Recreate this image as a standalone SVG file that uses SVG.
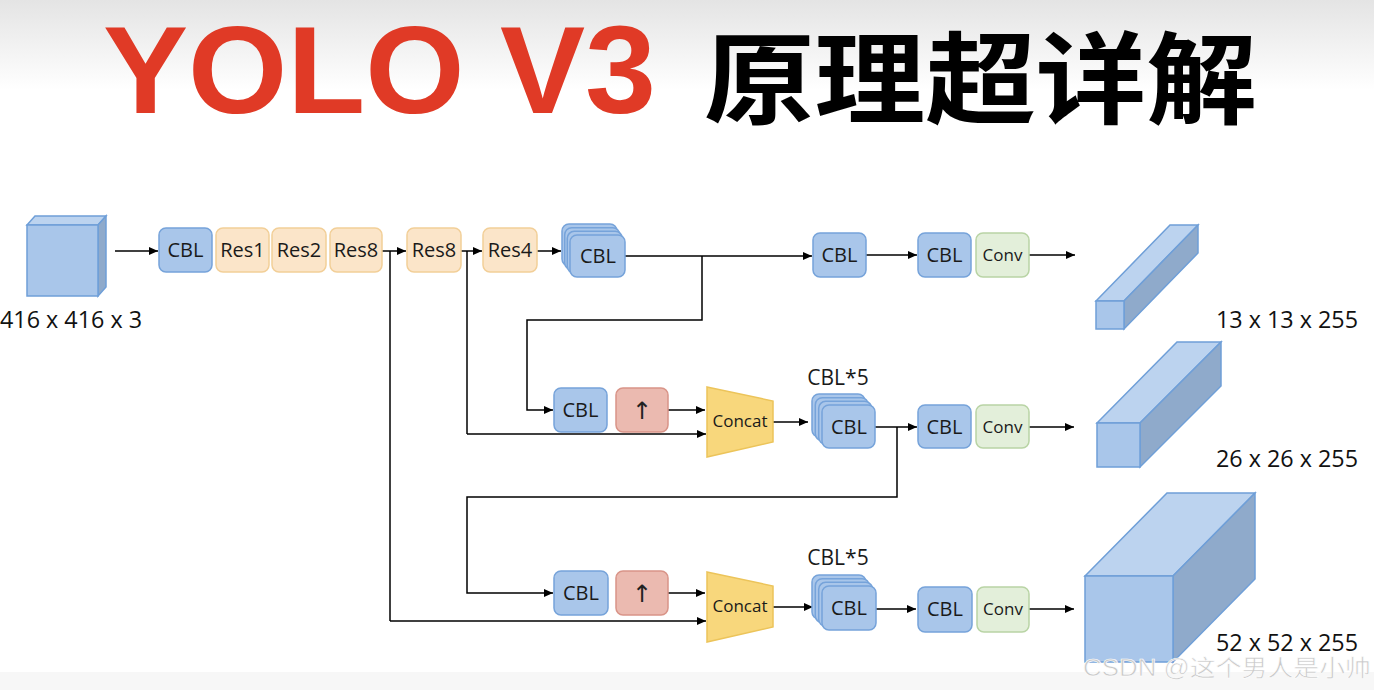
<svg xmlns="http://www.w3.org/2000/svg" width="1374" height="690" viewBox="0 0 1374 690">
<defs>
<linearGradient id="bg" x1="0" y1="0" x2="0" y2="1">
<stop offset="0" stop-color="#e4e4e4"/>
<stop offset="0.6" stop-color="#ffffff"/>
</linearGradient>
<marker id="ah" markerWidth="9" markerHeight="8" refX="9" refY="4" orient="auto" markerUnits="userSpaceOnUse">
<path d="M0,0 L9,4 L0,8 Z" fill="#000"/>
</marker>
<style>
.cbl{fill:#a9c6ea;stroke:#76a3da;stroke-width:1.5}
.res{fill:#fbe5c9;stroke:#f2cf98;stroke-width:1.5}
.conv{fill:#e3efda;stroke:#b9d4a5;stroke-width:1.5}
.up{fill:#ebbab0;stroke:#d99488;stroke-width:1.5}
.cat{fill:#f8d77c;stroke:#ecc45a;stroke-width:1.5}
.front{fill:#a9c6ea;stroke:#6f9fd8;stroke-width:1.5}
.top{fill:#bcd3ef;stroke:#6f9fd8;stroke-width:1.5}
.side{fill:#8faacb;stroke:#6f9fd8;stroke-width:1.5}
.t{font-family:"Open Sans","Liberation Sans",sans-serif;fill:#1a1a1a;text-anchor:middle}
.b{font-size:20px}
.s{font-size:17px}
.arw{font-family:"DejaVu Sans",sans-serif;font-size:24px;fill:#222;text-anchor:middle}
.lab{font-family:"Open Sans","Liberation Sans",sans-serif;font-size:23px;fill:#111}
.ln{fill:none;stroke:#000;stroke-width:1.5}
.ar{fill:none;stroke:#000;stroke-width:1.5;marker-end:url(#ah)}
</style>
</defs>
<rect x="0" y="0" width="1374" height="690" fill="#fff"/>
<rect x="0" y="0" width="1374" height="150" fill="url(#bg)"/>
<rect x="0" y="672" width="1374" height="18" fill="#f7f7f7"/>

<g id="title">
<text x="103" y="113" font-family="'Liberation Sans',sans-serif" font-weight="bold" font-size="124" fill="#e03a26" textLength="553" lengthAdjust="spacingAndGlyphs">YOLO V3</text>
<text x="704" y="116" font-family="'Noto Sans CJK SC',sans-serif" font-weight="bold" font-size="100" fill="#000" textLength="553" lengthAdjust="spacingAndGlyphs">原理超详解</text>
</g>

<g id="connectors">
<path class="ar" d="M115,251 H158"/>
<path class="ar" d="M382,251 H406"/>
<path class="ln" d="M390,251 V621"/>
<path class="ar" d="M390,621 H706"/>
<path class="ar" d="M461,251 H482"/>
<path class="ln" d="M467,251 V434"/>
<path class="ar" d="M467,434 H706"/>
<path class="ar" d="M537,251 H561"/>
<path class="ar" d="M625,256 H812"/>
<path class="ar" d="M702,256 V320 H527 V410 H553"/>
<path class="ar" d="M866,255 H917"/>
<path class="ar" d="M1029,255 H1075"/>
<path class="ar" d="M668,410 H705"/>
<path class="ar" d="M773,422 H808"/>
<path class="ar" d="M875,427 H917"/>
<path class="ar" d="M897,427 V497 H467 V593 H553"/>
<path class="ar" d="M1029,427 H1074"/>
<path class="ar" d="M668,593 H705"/>
<path class="ar" d="M773,607 H813"/>
<path class="ar" d="M876,609 H916"/>
<path class="ar" d="M1029,609 H1074"/>
</g>

<g id="input">
<polygon class="top" points="27,225 35,216 106,216 98,225"/>
<polygon class="side" points="98,225 106,216 106,287 98,296"/>
<rect class="front" x="27" y="225" width="71" height="71"/>
<text class="lab" x="0" y="328" textLength="142" lengthAdjust="spacingAndGlyphs">416 x 416 x 3</text>
</g>

<g id="cbl1"><rect class="cbl" x="159" y="228" width="53" height="44" rx="7"/><text class="t b" x="185.5" y="257">CBL</text></g>
<g id="res1"><rect class="res" x="216" y="228" width="53" height="44" rx="7"/><text class="t b" x="242.5" y="257">Res1</text></g>
<g id="res2"><rect class="res" x="272" y="228" width="54" height="44" rx="7"/><text class="t b" x="299" y="257">Res2</text></g>
<g id="res8a"><rect class="res" x="330" y="228" width="52" height="44" rx="7"/><text class="t b" x="356" y="257">Res8</text></g>
<g id="res8b"><rect class="res" x="407" y="228" width="54" height="44" rx="7"/><text class="t b" x="434" y="257">Res8</text></g>
<g id="res4"><rect class="res" x="483" y="228" width="54" height="44" rx="7"/><text class="t b" x="510" y="257">Res4</text></g>

<g id="cblstack1">
<rect class="cbl" x="562" y="224" width="55" height="42" rx="7"/>
<rect class="cbl" x="564.7" y="227.7" width="55" height="42" rx="7"/>
<rect class="cbl" x="567.3" y="231.3" width="55" height="42" rx="7"/>
<rect class="cbl" x="570" y="235" width="55" height="42" rx="7"/>
<text class="t b" x="598" y="263">CBL</text>
</g>

<g id="cbl_r1a"><rect class="cbl" x="813" y="233" width="53" height="44" rx="7"/><text class="t b" x="839.5" y="262">CBL</text></g>
<g id="cbl_r1b"><rect class="cbl" x="918" y="233" width="53" height="44" rx="7"/><text class="t b" x="944.5" y="262">CBL</text></g>
<g id="conv1"><rect class="conv" x="976" y="233" width="53" height="44" rx="7"/><text class="t s" x="1002.5" y="261">Conv</text></g>

<g id="out1">
<polygon class="top" points="1096,301 1170,225 1198,225 1124,301"/>
<polygon class="side" points="1124,301 1198,225 1198,253 1124,329"/>
<rect class="front" x="1096" y="301" width="28" height="28"/>
<text class="lab" x="1216" y="328" textLength="142" lengthAdjust="spacingAndGlyphs">13 x 13 x 255</text>
</g>

<g id="cbl_r2"><rect class="cbl" x="554" y="388" width="53" height="44" rx="7"/><text class="t b" x="580.5" y="417">CBL</text></g>
<g id="up1"><rect class="up" x="616" y="388" width="52" height="44" rx="7"/><text class="arw" x="642" y="419">↑</text></g>
<g id="concat1"><polygon class="cat" points="707,387 773,401 773,442 707,457"/><text class="t s" x="740" y="427">Concat</text></g>

<g id="cblstack2">
<text class="t" x="838" y="385" font-size="21">CBL*5</text>
<rect class="cbl" x="812" y="394" width="53" height="43" rx="7"/>
<rect class="cbl" x="815.3" y="397.7" width="53" height="43" rx="7"/>
<rect class="cbl" x="818.7" y="401.3" width="53" height="43" rx="7"/>
<rect class="cbl" x="822" y="405" width="53" height="43" rx="7"/>
<text class="t b" x="849" y="434">CBL</text>
</g>
<g id="cbl_r2b"><rect class="cbl" x="918" y="405" width="53" height="43" rx="7"/><text class="t b" x="944.5" y="434">CBL</text></g>
<g id="conv2"><rect class="conv" x="976" y="405" width="53" height="43" rx="7"/><text class="t s" x="1002.5" y="433">Conv</text></g>

<g id="out2">
<polygon class="top" points="1097,423 1177,342 1221,342 1140,423"/>
<polygon class="side" points="1140,423 1221,342 1221,386 1140,467"/>
<rect class="front" x="1097" y="423" width="43" height="44"/>
<text class="lab" x="1216" y="467" textLength="142" lengthAdjust="spacingAndGlyphs">26 x 26 x 255</text>
</g>

<g id="cbl_r3"><rect class="cbl" x="554" y="571" width="54" height="44" rx="7"/><text class="t b" x="581" y="600">CBL</text></g>
<g id="up2"><rect class="up" x="616" y="571" width="52" height="44" rx="7"/><text class="arw" x="642" y="602">↑</text></g>
<g id="concat2"><polygon class="cat" points="707,572 773,586 773,627 707,642"/><text class="t s" x="740" y="612">Concat</text></g>

<g id="cblstack3">
<text class="t" x="838" y="565" font-size="21">CBL*5</text>
<rect class="cbl" x="812" y="575" width="54" height="44" rx="7"/>
<rect class="cbl" x="815.3" y="578.7" width="54" height="44" rx="7"/>
<rect class="cbl" x="818.7" y="582.3" width="54" height="44" rx="7"/>
<rect class="cbl" x="822" y="586" width="54" height="44" rx="7"/>
<text class="t b" x="849" y="615">CBL</text>
</g>
<g id="cbl_r3b"><rect class="cbl" x="918" y="587" width="54" height="45" rx="7"/><text class="t b" x="945" y="616">CBL</text></g>
<g id="conv3"><rect class="conv" x="977" y="587" width="52" height="45" rx="7"/><text class="t s" x="1003" y="615">Conv</text></g>

<g id="out3">
<polygon class="top" points="1085,576 1167,493 1255,493 1173,576"/>
<polygon class="side" points="1173,576 1255,493 1255,579 1173,662"/>
<rect class="front" x="1085" y="576" width="88" height="86"/>
<text class="lab" x="1216" y="651" textLength="142" lengthAdjust="spacingAndGlyphs">52 x 52 x 255</text>
</g>

<g id="watermark">
<text x="1083" y="676" font-family="'Liberation Sans','Noto Sans CJK SC',sans-serif" font-size="23" fill="#c9c9c9" stroke="#ffffff" stroke-width="0.6" textLength="288" lengthAdjust="spacingAndGlyphs">CSDN @这个男人是小帅</text>
</g>
</svg>
